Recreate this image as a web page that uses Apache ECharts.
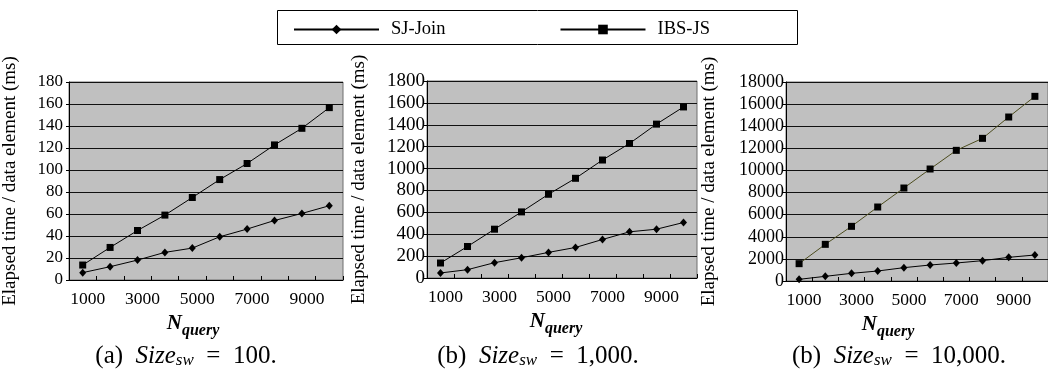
<!DOCTYPE html>
<html>
<head>
<meta charset="utf-8">
<script src="https://cdn.jsdelivr.net/npm/echarts@6/dist/echarts.min.js"></script>
<style>
html,body{margin:0;padding:0;background:#fff;}
#c{width:1048px;height:372px;}
</style>
</head>
<body>
<div id="c"></div>
<script>
// ---- data ----
var categories = ['1000','2000','3000','4000','5000','6000','7000','8000','9000','10000'];
var seriesNames = ['SJ-Join', 'IBS-JS'];
var sjJoin100   = [6.7, 12.1, 18.1, 25.1, 29, 39.3, 46.3, 54.1, 60.5, 67.5];
var ibsJs100    = [13.6, 29.6, 45, 59, 75, 91.3, 105.9, 122.8, 137.9, 156.7];
var sjJoin1000  = [46, 76, 140, 185, 234, 279, 352, 422, 446, 507];
var ibsJs1000   = [137, 288, 446, 604, 765, 911, 1078, 1229, 1406, 1563];
var sjJoin10000 = [151, 422, 693, 904, 1206, 1447, 1628, 1839, 2140, 2351];
var ibsJs10000  = [1568, 3316, 4944, 6693, 8411, 10130, 11818, 12903, 14833, 16702];
var yMax = [180, 1800, 18000];
var yStep = [20, 200, 2000];
var captionVals = ['100.', '1,000.', '10,000.'];
var captionPrefix = ['(a)', '(b)', '(b)'];
var yName = 'Elapsed time / data element (ms)';

var FONT = 'Liberation Serif, Times New Roman, serif';
var chart = echarts.init(document.getElementById('c'));

var grids = [
  {left: 68, top: 82, width: 275, height: 198},
  {left: 427, top: 81, width: 270, height: 197},
  {left: 786, top: 82, width: 273, height: 199}
];
var yLabelSize = [17, 19, 18];
var yLabelMargin = [6, 2, 2];
var yNameGap = [49, 58, 67];
var xNameShift = [26, 12, 58];

var sjData = [sjJoin100, sjJoin1000, sjJoin10000];
var ibsData = [ibsJs100, ibsJs1000, ibsJs10000];
var ibsColor = ['#000', '#000', '#4d4d1f'];

var gridOpts = [], xAxes = [], yAxes = [], series = [], titles = [];
for (var i = 0; i < 3; i++) {
  gridOpts.push(Object.assign({show: true, backgroundColor: '#c0c0c0', borderColor: '#6e6e6e', borderWidth: 1}, grids[i]));
  xAxes.push({
    type: 'category', gridIndex: i, data: categories, boundaryGap: true,
    axisLine: {lineStyle: {color: '#000', width: 1}},
    axisTick: {show: true, interval: 0, inside: true, length: 4, lineStyle: {color: '#000'}},
    axisLabel: {interval: 1, color: '#000', fontFamily: FONT, fontSize: 17.5, margin: 10, padding: [0, 0, 0, 10]},
    splitLine: {show: false},
    name: '{n|N}{q|query}', nameLocation: 'middle', nameGap: 20,
    nameTextStyle: {
      padding: [0, xNameShift[i], 0, 0],
      rich: {
        n: {fontFamily: FONT, fontStyle: 'italic', fontWeight: 'bold', fontSize: 21, color: '#000'},
        q: {fontFamily: FONT, fontStyle: 'italic', fontWeight: 'bold', fontSize: 16, color: '#000', padding: [14, 0, 0, 0]}
      }
    }
  });
  yAxes.push({
    type: 'value', gridIndex: i, min: 0, max: yMax[i], interval: yStep[i],
    axisLine: {show: true, lineStyle: {color: '#000', width: 1}},
    axisTick: {show: true, length: 3, lineStyle: {color: '#000'}},
    axisLabel: {color: '#000', fontFamily: FONT, fontSize: yLabelSize[i], margin: yLabelMargin[i],
      formatter: function (v) { return String(v); }},
    splitLine: {show: true, lineStyle: {color: '#111', width: 1}},
    name: yName, nameLocation: 'middle', nameGap: yNameGap[i], nameRotate: 90,
    nameTextStyle: {fontFamily: FONT, fontSize: 19, color: '#000'}
  });
  series.push({
    name: seriesNames[0], type: 'line', xAxisIndex: i, yAxisIndex: i, data: sjData[i],
    symbol: 'diamond', symbolSize: [7, 8], showSymbol: true,
    itemStyle: {color: '#000'}, lineStyle: {color: '#000', width: 1}, animation: false
  });
  series.push({
    name: seriesNames[1], type: 'line', xAxisIndex: i, yAxisIndex: i, data: ibsData[i],
    symbol: 'rect', symbolSize: 7, showSymbol: true,
    itemStyle: {color: '#000'}, lineStyle: {color: ibsColor[i], width: 1}, animation: false
  });
}

var capCenters = [181, 533, 894];
for (var j = 0; j < 3; j++) {
  titles.push({
    text: '{r|' + captionPrefix[j] + '  }{i|Size}{s|sw}{r|  =  ' + captionVals[j] + '}',
    left: capCenters[j], top: 338, textAlign: 'center',
    textStyle: {
      fontWeight: 'normal',
      rich: {
        r: {fontFamily: FONT, fontSize: 25, fontWeight: 'normal', color: '#000'},
        i: {fontFamily: FONT, fontSize: 25, fontStyle: 'italic', fontWeight: 'normal', color: '#000'},
        s: {fontFamily: FONT, fontSize: 17, fontStyle: 'italic', fontWeight: 'normal', color: '#000', padding: [9, 0, 0, 0]}
      }
    }
  });
}

chart.setOption({
  animation: false,
  title: titles,
  legend: {
    data: seriesNames, left: 288, top: 15,
    itemWidth: 85, itemHeight: 12, itemGap: 114,
    textStyle: {fontFamily: FONT, fontSize: 18.5, color: '#000', padding: [0, 0, 0, 7]},
    inactiveColor: '#000'
  },
  graphic: [{
    type: 'rect', left: 275, top: 8, shape: {width: 520, height: 34},
    style: {fill: 'none', stroke: '#000', lineWidth: 1}
  }],
  grid: gridOpts, xAxis: xAxes, yAxis: yAxes, series: series
});
</script>
</body>
</html>
